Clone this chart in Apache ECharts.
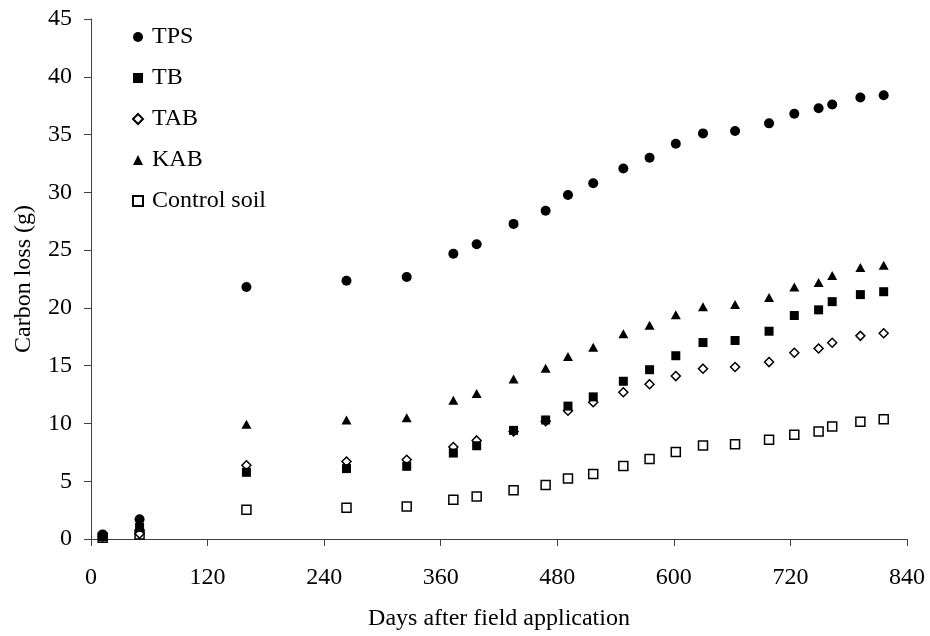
<!DOCTYPE html>
<html>
<head>
<meta charset="utf-8">
<script src="https://cdn.jsdelivr.net/npm/echarts@6/dist/echarts.min.js"></script>
<style>html,body{margin:0;padding:0;background:#fff}#c{width:930px;height:636px}</style>
</head>
<body>
<div id="c"></div>
<script>
const days = [12, 50, 160, 263, 325, 373, 397, 435, 468, 491, 517, 548, 575, 602, 630, 663, 698, 724, 749, 763, 792, 816];
const tps = [0.4, 1.7, 21.8, 22.35, 22.67, 24.68, 25.5, 27.27, 28.4, 29.77, 30.78, 32.07, 33.0, 34.2, 35.1, 35.3, 35.97, 36.8, 37.27, 37.6, 38.2, 38.4];
const tb = [0.2, 1.0, 5.77, 6.09, 6.29, 7.44, 8.07, 9.4, 10.3, 11.5, 12.3, 13.65, 14.65, 15.86, 17.0, 17.18, 17.98, 19.34, 19.83, 20.54, 21.15, 21.4];
const tab = [0.2, 0.45, 6.38, 6.7, 6.86, 7.96, 8.53, 9.3, 10.2, 11.1, 11.84, 12.7, 13.4, 14.1, 14.74, 14.88, 15.31, 16.12, 16.49, 16.98, 17.58, 17.81];
const kab = [0.3, 1.2, 9.94, 10.3, 10.5, 12.0, 12.6, 13.85, 14.77, 15.8, 16.6, 17.76, 18.5, 19.4, 20.1, 20.3, 20.9, 21.8, 22.2, 22.8, 23.5, 23.7];
const control = [0.1, 0.4, 2.53, 2.7, 2.81, 3.39, 3.67, 4.22, 4.68, 5.23, 5.63, 6.32, 6.92, 7.53, 8.1, 8.19, 8.59, 9.02, 9.31, 9.74, 10.14, 10.37];
const seriesNames = ['TPS', 'TB', 'TAB', 'KAB', 'Control soil'];
const xTicks = [0, 120, 240, 360, 480, 600, 720, 840];
const yTicks = [0, 5, 10, 15, 20, 25, 30, 35, 40, 45];

const font = '"Liberation Serif", "Times New Roman", serif';
const pair = arr => days.map((d, i) => [d, arr[i]]);

const chart = echarts.init(document.getElementById('c'), null, {renderer: 'canvas'});
const axisCol = '#404040';
chart.setOption({
  animation: false,
  backgroundColor: '#fff',
  textStyle: {fontFamily: font, color: '#000'},
  grid: {left: 91, right: 23, top: 19, bottom: 95},
  legend: {
    data: seriesNames,
    orient: 'vertical',
    left: 127, top: 20,
    itemWidth: 10, itemHeight: 10, itemGap: 17,
    textStyle: {fontFamily: font, fontSize: 24, color: '#000', lineHeight: 24, padding: [0, 0, 0, 4]}
  },
  xAxis: {
    type: 'value', min: xTicks[0], max: xTicks[xTicks.length - 1], interval: 120,
    name: 'Days after field application', nameLocation: 'middle', nameGap: 68,
    nameTextStyle: {fontFamily: font, fontSize: 24, color: '#000'},
    axisLine: {show: true, lineStyle: {color: axisCol, width: 1}},
    axisTick: {show: true, length: 7, inside: false, lineStyle: {color: axisCol}},
    axisLabel: {fontFamily: font, fontSize: 24, color: '#000', margin: 27},
    splitLine: {show: false}
  },
  yAxis: {
    type: 'value', min: yTicks[0], max: yTicks[yTicks.length - 1], interval: 5,
    name: 'Carbon loss (g)', nameLocation: 'middle', nameGap: 55,
    nameTextStyle: {fontFamily: font, fontSize: 24, color: '#000'},
    axisLine: {show: true, lineStyle: {color: axisCol, width: 1}},
    axisTick: {show: true, length: 7, inside: false, lineStyle: {color: axisCol}},
    axisLabel: {fontFamily: font, fontSize: 24, color: '#000', margin: 19},
    splitLine: {show: false}
  },
  series: [
    {name: 'TPS', type: 'scatter', data: pair(tps), symbol: 'circle', symbolSize: 10, z: 2,
     itemStyle: {color: '#000', opacity: 1}},
    {name: 'TB', type: 'scatter', data: pair(tb), symbol: 'rect', symbolSize: 9, z: 4,
     itemStyle: {color: '#000', opacity: 1}},
    {name: 'TAB', type: 'scatter', data: pair(tab), symbol: 'diamond', symbolSize: 9, z: 3,
     itemStyle: {color: '#fff', borderColor: '#000', borderWidth: 1.5, opacity: 1}},
    {name: 'KAB', type: 'scatter', data: pair(kab), symbol: 'triangle', symbolSize: [10, 9], z: 2,
     itemStyle: {color: '#000', opacity: 1}},
    {name: 'Control soil', type: 'scatter', data: pair(control), symbol: 'rect', symbolSize: 9, z: 2,
     itemStyle: {color: '#fff', borderColor: '#000', borderWidth: 1.5, opacity: 1}}
  ]
});
</script>
</body>
</html>
